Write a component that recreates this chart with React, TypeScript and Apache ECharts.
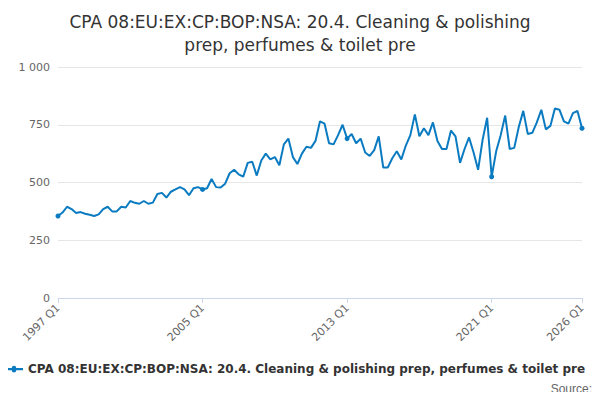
import { useEffect, useRef } from "react"
import * as echarts from "echarts"

const seriesName = "CPA 08:EU:EX:CP:BOP:NSA: 20.4. Cleaning & polishing prep, perfumes & toilet pre"

const values = [
  355, 370, 395, 385, 368, 372, 365, 360, 355, 362, 385, 395, 375, 375, 395, 392,
  420, 412, 408, 420, 408, 413, 450, 455, 435, 460, 470, 480, 470, 445, 475, 480,
  470, 475, 515, 480, 478, 495, 540, 555, 535, 525, 585, 590, 530, 595, 625, 600,
  610, 575, 665, 690, 610, 580, 625, 655, 650, 680, 765, 755, 670, 665, 705, 750,
  690, 710, 670, 690, 630, 615, 640, 700, 565, 565, 605, 635, 600, 660, 705, 795,
  700, 735, 705, 760, 680, 645, 645, 725, 700, 585, 645, 695, 630, 555, 685, 780,
  525, 635, 705, 790, 645, 650, 740, 810, 710, 715, 760, 815, 730, 745, 820, 815,
  765, 755, 800, 810, 735,
]

const categories = values.map((_, i) => `${1997 + Math.floor(i / 4)} Q${(i % 4) + 1}`)
const shownLabels = ["1997 Q1", "2005 Q1", "2013 Q1", "2021 Q1", "2026 Q1"]

export default function App() {
  const chartRef = useRef<HTMLDivElement>(null)

  useEffect(() => {
    if (!chartRef.current) return
    const chart = echarts.init(chartRef.current, undefined, { renderer: "svg" })
    chart.setOption({
      animation: false,
      textStyle: { fontFamily: "DejaVu Sans" },
      title: {
        text: "CPA 08:EU:EX:CP:BOP:NSA: 20.4. Cleaning & polishing\nprep, perfumes & toilet pre",
        left: "center",
        top: -3,
        textStyle: { fontSize: 17, fontWeight: "normal", color: "#333", lineHeight: 23 },
      },
      grid: { left: 50, right: 10, top: 59, bottom: 94 },
      xAxis: {
        type: "category",
        data: categories,
        boundaryGap: false,
        axisLine: { lineStyle: { color: "#ccd6eb" } },
        axisTick: {
          alignWithLabel: true,
          interval: (i: number) => shownLabels.includes(categories[i]),
          lineStyle: { color: "#ccd6eb" },
        },
        axisLabel: {
          interval: (i: number) => shownLabels.includes(categories[i]),
          rotate: 45,
          color: "#666",
          fontSize: 11,
          showMaxLabel: true,
        },
      },
      yAxis: {
        type: "value",
        min: 0,
        max: 1000,
        interval: 250,
        axisLabel: {
          color: "#666",
          fontSize: 11,
          formatter: (v: number) => (v >= 1000 ? "1 000" : String(v)),
        },
        splitLine: { lineStyle: { color: "#e6e6e6" } },
      },
      legend: {
        data: [seriesName],
        bottom: 12,
        left: -8,
        icon: "path://M0,4 L6,4 A2,2 0 1 1 10,4 L16,4 L16,6 L10,6 A2,2 0 1 1 6,6 L0,6 Z",
        itemWidth: 18,
        itemHeight: 8,
        textStyle: { fontSize: 12, fontWeight: "bold", color: "#333" },
      },
      graphic: [
        {
          type: "text",
          right: 0,
          bottom: -3,
          style: { text: "Source:", fontSize: 12, fill: "#666" },
        },
      ],
      series: [
        {
          name: seriesName,
          type: "line",
          data: values,
          color: "#0a7bc1",
          symbol: "circle",
          symbolSize: 5,
          lineStyle: { width: 2 },
        },
      ],
    })
    return () => chart.dispose()
  }, [])

  return <div ref={chartRef} style={{ width: 584, height: 384 }} />
}
